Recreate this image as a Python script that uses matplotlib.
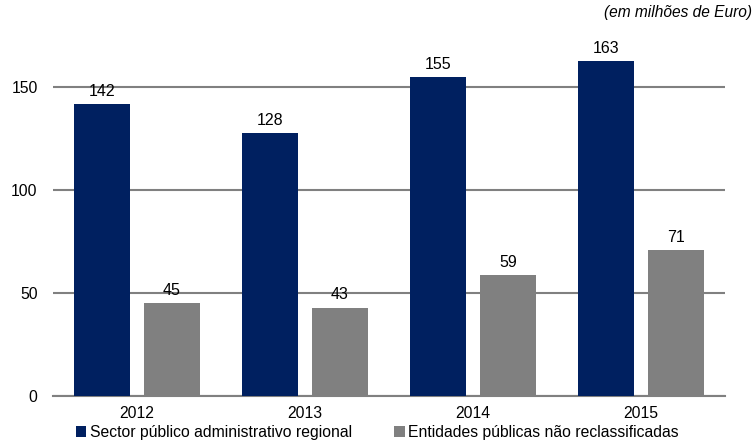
import matplotlib.pyplot as plt
import numpy as np

plt.rcParams['font.family'] = ['Liberation Sans', 'DejaVu Sans']

years = ['2012', '2013', '2014', '2015']
sector_regional = [142, 128, 155, 163]
entidades = [45, 43, 59, 71]
series_names = ['Sector público administrativo regional',
                'Entidades públicas não reclassificadas']

blue = '#002060'
gray = '#808080'

fig = plt.figure(figsize=(7.54, 4.48), dpi=100)
ax = fig.add_axes([0.0703, 0.116, 0.8912, 0.8036])

x = np.arange(len(years))
w = 0.333
off = 0.208
b1 = ax.bar(x - off, sector_regional, w, color=blue, label=series_names[0], zorder=3)
b2 = ax.bar(x + off, entidades, w, color=gray, label=series_names[1], zorder=3)

# value labels above each bar
for bars, vals in ((b1, sector_regional), (b2, entidades)):
    for r, v in zip(bars, vals):
        ax.text(r.get_x() + r.get_width() / 2, v + 2.5, str(v),
                ha='center', va='bottom', fontsize=11.5, color='black')

ax.set_xlim(-0.5, 3.5)
ax.set_ylim(0, 175)
ax.set_yticks([0, 50, 100, 150])
ax.set_xticks(x)
ax.set_xticklabels(years)
ax.tick_params(length=0, labelsize=11.3, pad=7)
ax.tick_params(axis='y', pad=11)
ax.yaxis.grid(True, color=gray, linewidth=1.5, zorder=0)
for s in ('top', 'right', 'left'):
    ax.spines[s].set_visible(False)
ax.spines['bottom'].set_color(gray)
ax.spines['bottom'].set_linewidth(1.5)

fig.text(0.997, 0.971, '(em milhões de Euro)', ha='right', va='center',
         style='italic', fontsize=11.2)

fig.legend(handles=[b1, b2], loc='center left', bbox_to_anchor=(0.0814, 0.034),
           ncol=2, frameon=False, fontsize=11.3, handlelength=0.7,
           handleheight=0.7, handletextpad=0.2, columnspacing=2.7)

fig.savefig('out.png', dpi=100)
